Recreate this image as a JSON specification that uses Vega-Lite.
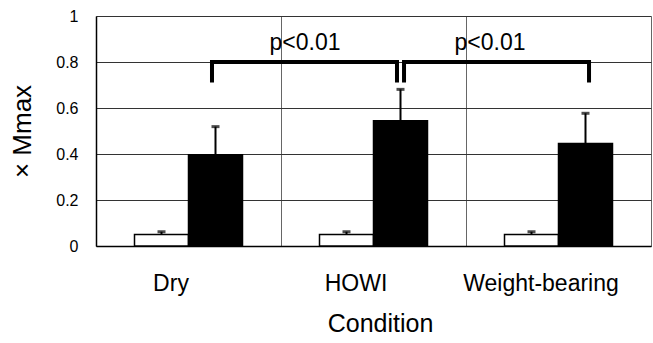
{
  "$schema": "https://vega.github.io/schema/vega-lite/v6.json",
  "width": 555,
  "height": 230,
  "autosize": "none",
  "padding": {"left": 96, "top": 16, "right": 2, "bottom": 97},
  "config": {"view": {"stroke": null}, "font": "Liberation Sans"},
  "datasets": {
    "bars": [
      {"Condition": "Dry", "group": "white", "value": 0.05, "upper": 0.062},
      {"Condition": "Dry", "group": "black", "value": 0.397, "upper": 0.519},
      {"Condition": "HOWI", "group": "white", "value": 0.05, "upper": 0.062},
      {"Condition": "HOWI", "group": "black", "value": 0.545, "upper": 0.681},
      {"Condition": "Weight-bearing", "group": "white", "value": 0.05, "upper": 0.062},
      {"Condition": "Weight-bearing", "group": "black", "value": 0.446, "upper": 0.577}
    ],
    "brackets": [
      {"bracket": 1, "ord": 1, "Condition": "Dry", "y": 0.711},
      {"bracket": 1, "ord": 2, "Condition": "Dry", "y": 0.8},
      {"bracket": 1, "ord": 3, "Condition": "HOWI", "y": 0.8},
      {"bracket": 1, "ord": 4, "Condition": "HOWI", "y": 0.711},
      {"bracket": 2, "ord": 1, "Condition": "HOWI", "y": 0.711},
      {"bracket": 2, "ord": 2, "Condition": "HOWI", "y": 0.8},
      {"bracket": 2, "ord": 3, "Condition": "Weight-bearing", "y": 0.8},
      {"bracket": 2, "ord": 4, "Condition": "Weight-bearing", "y": 0.711}
    ],
    "labels": [
      {"Condition": "HOWI", "group": "white", "y": 0.851, "label": "p<0.01"},
      {"Condition": "Weight-bearing", "group": "white", "y": 0.851, "label": "p<0.01"}
    ]
  },
  "encoding": {
    "x": {
      "field": "Condition",
      "type": "nominal",
      "sort": ["Dry", "HOWI", "Weight-bearing"],
      "scale": {"paddingInner": 0, "paddingOuter": 0},
      "axis": {
        "grid": true,
        "tickBand": "extent",
        "gridColor": "#666",
        "gridWidth": 1,
        "domainColor": "black",
        "domainWidth": 1.5,
        "ticks": false,
        "tickSize": 0,
        "labelPadding": 26,
        "labelFontSize": 23,
        "labelOffset": -18,
        "labelAngle": 0,
        "labelColor": "black",
        "title": "Condition",
        "titleFontSize": 25,
        "titleFontWeight": "normal",
        "titleColor": "black",
        "titleX": 284,
        "titleY": 65,
        "titleBaseline": "top"
      }
    }
  },
  "layer": [
    {
      "data": {"name": "bars"},
      "mark": {"type": "bar", "stroke": "black", "strokeWidth": 1.5},
      "encoding": {
        "xOffset": {
          "field": "group",
          "type": "nominal",
          "sort": ["white", "black"],
          "scale": {"paddingInner": 0, "paddingOuter": 0.713}
        },
        "y": {
          "field": "value",
          "type": "quantitative",
          "scale": {"domain": [0, 1]},
          "axis": {
            "values": [0, 0.2, 0.4, 0.6, 0.8, 1],
            "format": "~g",
            "grid": true,
            "gridColor": "#333",
            "gridWidth": 1,
            "ticks": false,
            "tickSize": 0,
            "labelPadding": 18,
            "labelFontSize": 16,
            "labelColor": "black",
            "domainColor": "black",
            "domainWidth": 1.5,
            "title": "× Mmax",
            "titleFontSize": 26,
            "titleFontWeight": "normal",
            "titleColor": "black",
            "titleX": -74,
            "titleY": 115,
            "titleAngle": 270,
            "titleAlign": "center",
            "titleBaseline": "middle"
          }
        },
        "fill": {
          "field": "group",
          "type": "nominal",
          "scale": {"domain": ["white", "black"], "range": ["white", "black"]},
          "legend": null
        }
      }
    },
    {
      "data": {"name": "bars"},
      "mark": {"type": "rule", "color": "black", "strokeWidth": 2},
      "encoding": {
        "xOffset": {"field": "group", "type": "nominal", "sort": ["white", "black"]},
        "y": {"field": "value", "type": "quantitative"},
        "y2": {"field": "upper"}
      }
    },
    {
      "data": {"name": "bars"},
      "mark": {"type": "tick", "color": "black", "thickness": 3, "size": 8},
      "encoding": {
        "xOffset": {"field": "group", "type": "nominal", "sort": ["white", "black"]},
        "y": {"field": "upper", "type": "quantitative"}
      }
    },
    {
      "data": {"name": "brackets"},
      "transform": [{"filter": "datum.bracket == 1"}],
      "mark": {"type": "line", "color": "black", "strokeWidth": 4, "strokeJoin": "miter", "strokeCap": "butt"},
      "encoding": {
        "x": {"field": "Condition", "type": "nominal", "sort": ["Dry", "HOWI", "Weight-bearing"], "bandPosition": 0.627},
        "y": {"field": "y", "type": "quantitative"},
        "order": {"field": "ord", "type": "quantitative"}
      }
    },
    {
      "data": {"name": "brackets"},
      "transform": [{"filter": "datum.bracket == 2"}],
      "mark": {"type": "line", "color": "black", "strokeWidth": 4, "strokeJoin": "miter", "strokeCap": "butt"},
      "encoding": {
        "x": {"field": "Condition", "type": "nominal", "sort": ["Dry", "HOWI", "Weight-bearing"], "bandPosition": 0.665},
        "y": {"field": "y", "type": "quantitative"},
        "order": {"field": "ord", "type": "quantitative"}
      }
    },
    {
      "data": {"name": "labels"},
      "mark": {"type": "text", "fontSize": 23, "dx": -41.5, "align": "center", "baseline": "alphabetic", "color": "black"},
      "encoding": {
        "xOffset": {"field": "group", "type": "nominal", "sort": ["white", "black"]},
        "y": {"field": "y", "type": "quantitative"},
        "text": {"field": "label"}
      }
    }
  ]
}
